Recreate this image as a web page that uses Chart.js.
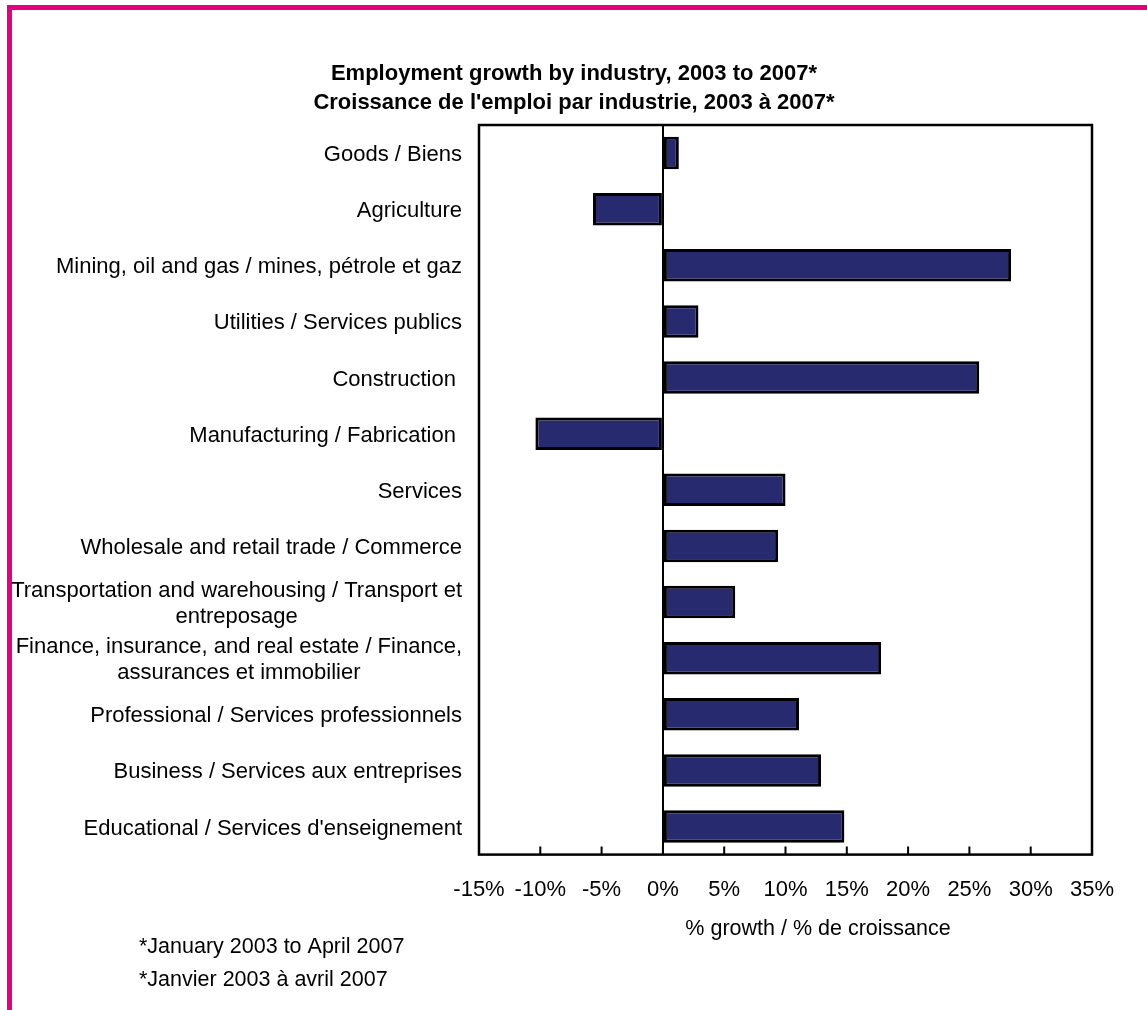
<!DOCTYPE html>
<html>
<head>
<meta charset="utf-8">
<title>Employment growth by industry</title>
<script src="https://cdn.jsdelivr.net/npm/chart.js@4"></script>
<style>
  html, body { margin: 0; background: #fff; }
  #wrap { position: relative; width: 1147px; height: 1010px; overflow: hidden; }
  #frame {
    position: absolute; left: 7px; top: 5px; right: -20px; bottom: -20px;
    border-top: 5px solid #e6007e; border-left: 5px solid #e6007e;
  }
  #chart { position: absolute; left: 0; top: 0; }
</style>
</head>
<body>
<div id="wrap">
  <div id="frame"></div>
  <canvas id="chart" width="1147" height="1010"></canvas>
</div>
<script>
// industries, top to bottom; multi-line labels are split into arrays
const categories = [
    ['Goods / Biens'],
    ['Agriculture'],
    ['Mining, oil and gas / mines, pétrole et gaz'],
    ['Utilities / Services publics'],
    ['Construction '],
    ['Manufacturing / Fabrication '],
    ['Services'],
    ['Wholesale and retail trade / Commerce'],
    ['Transportation and warehousing / Transport et', 'entreposage'],
    ['Finance, insurance, and real estate / Finance,', 'assurances et immobilier'],
    ['Professional / Services professionnels'],
    ['Business / Services aux entreprises'],
    ["Educational / Services d'enseignement"]
];

// % growth, Jan 2003 to Apr 2007
const growth = [1.3, -5.7, 28.4, 2.9, 25.8, -10.4, 10.0, 9.4, 5.9, 17.8, 11.1, 12.9, 14.8];

// x axis range and step (%)
const xMin = -15;
const xMax = 35;
const xStep = 5;

const titleLines = [
    'Employment growth by industry, 2003 to 2007*',
    "Croissance de l'emploi par industrie, 2003 à 2007*"
];
const axisTitle = '% growth / % de croissance';
const footnotes = ['*January 2003 to April 2007', '*Janvier 2003 à avril 2007'];

const FONT = '"Liberation Sans", Arial, Helvetica, sans-serif';

// box around the plot, inward tick marks, category labels and surrounding text
const decorations = {
    id: 'decorations',
    afterDraw(chart) {
        const { ctx, chartArea: area, scales } = chart;
        const x = scales.x;
        const y = scales.y;

        ctx.save();
        ctx.strokeStyle = '#000';
        ctx.lineWidth = 2.5;
        ctx.strokeRect(area.left, area.top, area.right - area.left, area.bottom - area.top);

        // short ticks pointing up into the plot
        ctx.lineWidth = 2;
        ctx.beginPath();
        x.ticks.forEach(t => {
            const px = x.getPixelForValue(t.value);
            ctx.moveTo(px, area.bottom);
            ctx.lineTo(px, area.bottom - 8);
        });
        ctx.stroke();

        // category labels: block right-aligned to the plot, lines centred in the block
        ctx.fillStyle = '#000';
        ctx.font = '22px ' + FONT;
        ctx.textAlign = 'center';
        ctx.textBaseline = 'middle';
        categories.forEach((lines, i) => {
            const cy = y.getPixelForValue(i) + 2;
            const widest = Math.max(...lines.map(l => ctx.measureText(l).width));
            const cx = area.left - 17 - widest / 2;
            lines.forEach((line, j) => {
                ctx.fillText(line, cx, cy + (j - (lines.length - 1) / 2) * 26);
            });
        });

        // x axis title
        ctx.font = '21.5px ' + FONT;
        ctx.fillText(axisTitle, 818, 929);

        // footnotes
        ctx.textAlign = 'left';
        footnotes.forEach((line, j) => ctx.fillText(line, 139, 947 + j * 33));

        // chart title
        ctx.font = 'bold 22px ' + FONT;
        ctx.textAlign = 'center';
        titleLines.forEach((line, j) => ctx.fillText(line, 574, 74 + j * 29));
        ctx.restore();
    }
};

new Chart(document.getElementById('chart'), {
    type: 'bar',
    data: {
        labels: categories,
        datasets: [{
            data: growth,
            backgroundColor: '#282a70',
            borderColor: '#000',
            borderWidth: 3,
            borderSkipped: false,
            categoryPercentage: 1,
            barPercentage: 0.58
        }]
    },
    options: {
        indexAxis: 'y',
        responsive: false,
        animation: false,
        layout: {
            padding: { left: 471, right: 55, top: 125, bottom: 85 }
        },
        plugins: {
            legend: { display: false },
            tooltip: { enabled: false },
            title: { display: false }
        },
        scales: {
            x: {
                min: xMin,
                max: xMax,
                border: { display: false },
                grid: {
                    drawTicks: false,
                    lineWidth: 2,
                    color: c => (c.tick && c.tick.value === 0 ? '#000' : 'rgba(0,0,0,0)')
                },
                ticks: {
                    stepSize: xStep,
                    padding: 22,
                    color: '#000',
                    font: { family: FONT, size: 22 },
                    maxRotation: 0,
                    callback: v => v + '%'
                }
            },
            y: {
                border: { display: false },
                grid: { display: false },
                ticks: { display: false }
            }
        }
    },
    plugins: [decorations]
});
</script>
</body>
</html>
